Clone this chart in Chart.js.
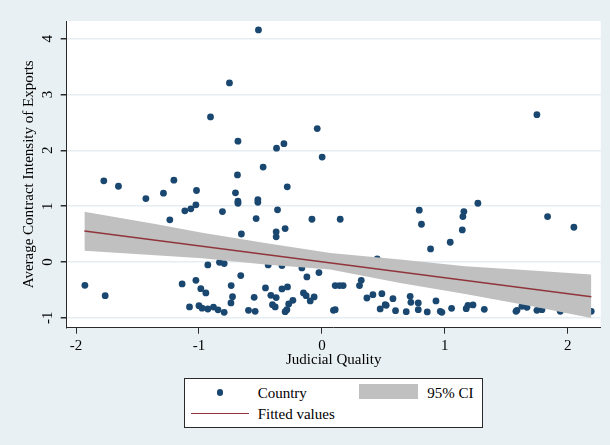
<!DOCTYPE html>
<html>
<head>
<meta charset="utf-8">
<script src="https://cdn.jsdelivr.net/npm/chart.js@4/dist/chart.umd.min.js"></script>
<style>
  html, body { margin: 0; padding: 0; background: #e9f0f3; }
  #wrap { position: relative; width: 610px; height: 445px; }
  canvas { display: block; }
  #legend {
    position: absolute; left: 184px; top: 378px; width: 297px; height: 48px;
    border: 1px solid #2a2a2a; background: #ffffff;
    font-family: "Liberation Serif", "Times New Roman", serif; font-size: 15px; color: #000;
  }
  #legend .txt { position: absolute; white-space: nowrap; line-height: 18px; }
  #legend .sym { position: absolute; }
</style>
</head>
<body>
<div id="wrap">
  <canvas id="chart" width="610" height="445"></canvas>
  <div id="legend"></div>
</div>
<script>
// Country observations: judicial quality (x) and average contract intensity of exports (y)
const countryX = [
  -0.516, -0.752, -0.906, 1.749, -0.038, -0.683, -0.309, -0.369, 0.002, -0.478,
  -0.687, -1.774, -1.204, -1.655, -0.282, -1.020, -1.289, -0.703, -1.432, -0.521,
  -0.521, -0.683, -0.683, 1.269, -1.025, -1.066, -1.115, -0.361, -0.809, 0.792,
  1.155, 1.147, 1.836, -0.535, -0.081, 0.149, -1.237, 0.810, 2.050, -0.299,
  1.142, -0.372, -0.655, -0.372, 1.044, 0.884, 0.450,
  -0.928, -0.833, -0.795, -0.437, -0.325, -0.163, -0.024, -0.122, -0.660,
  -1.928, -1.763, -1.137, -1.025, -0.985, -0.944, -0.738, -0.727, -0.740,
  -1.077, -1.000, -0.975, -0.928, -0.882, -0.845, -0.795, -0.597, -0.543, -0.551,
  -0.459, -0.415, -0.372, -0.402, -0.380, -0.325, -0.280, -0.236, -0.270, -0.285,
  -0.299, -0.150, -0.128, -0.063, -0.095, 0.108, 0.143, 0.173, 0.320, 0.306,
  0.108, 0.094, 0.366, 0.415, 0.474, 0.488, 0.515, 0.523, 0.578, 0.599,
  0.686, 0.718, 0.724, 0.784, 0.784, 0.857, 0.928, 0.963, 0.976, 1.055,
  1.174, 1.188, 1.229, 1.321, 1.579, 1.587, 1.627, 1.668, 1.749, 1.790,
  1.939, 2.191
];
const countryY = [
  4.16, 3.21, 2.60, 2.64, 2.39, 2.165, 2.12, 2.04, 1.88, 1.70,
  1.56, 1.454, 1.465, 1.357, 1.346, 1.28, 1.232, 1.239, 1.136, 1.118,
  1.07, 1.088, 1.052, 1.052, 1.023, 0.952, 0.916, 0.933, 0.903, 0.927,
  0.903, 0.813, 0.813, 0.777, 0.765, 0.765, 0.754, 0.675, 0.621, 0.598,
  0.574, 0.539, 0.50, 0.449, 0.352, 0.233, 0.054,
  -0.054, -0.007, -0.03, -0.054, -0.066, -0.108, -0.192, -0.27, -0.245,
  -0.42, -0.605, -0.395, -0.33, -0.48, -0.557, -0.425, -0.623, -0.736,
  -0.808, -0.785, -0.83, -0.845, -0.81, -0.86, -0.905, -0.868, -0.886, -0.635,
  -0.467, -0.60, -0.64, -0.767, -0.808, -0.485, -0.449, -0.689, -0.754, -0.856,
  -0.892, -0.557, -0.605, -0.628, -0.70, -0.425, -0.425, -0.425, -0.33, -0.425,
  -0.856, -0.868, -0.647, -0.587, -0.844, -0.569, -0.767, -0.779, -0.659, -0.874,
  -0.892, -0.617, -0.725, -0.736, -0.856, -0.898, -0.70, -0.886, -0.905, -0.833,
  -0.838, -0.779, -0.772, -0.85, -0.886, -0.868, -0.797, -0.815, -0.868, -0.856,
  -0.886, -0.886
];

// 95% confidence band of the fit
const ciX     = [-1.932, -1.356, -0.974, -0.461, 0.068, 0.637, 1.166, 1.709, 2.192];
const ciUpper = [ 0.898,  0.680,  0.521,  0.340, 0.160, 0.041, -0.079, -0.156, -0.228];
const ciLower = [ 0.200,  0.120,  0.065, -0.048, -0.138, -0.377, -0.575, -0.797, -1.005];

// Fitted values (linear fit)
const fitX = [-1.932, 2.192];
const fitY = [0.556, -0.623];

// Axis ticks
const xTicks = [-2, -1, 0, 1, 2];
const xTickLabels = ['-2', '-1', '0', '1', '2'];
const yTicks = [-1, 0, 1, 2, 3, 4];
const yTickLabels = ['-1', '0', '1', '2', '3', '4'];

const NAVY = '#1a476f';
const MAROON = '#90353b';
const BAND = '#c0c0c0';
const INK = '#2a2a2a';
const SERIF = '"Liberation Serif", "Times New Roman", serif';

const pts = (xs, ys) => xs.map((x, i) => ({ x: x, y: ys[i] }));

const plotBackground = {
  id: 'plotBackground',
  beforeDraw(chart) {
    const { ctx, chartArea: a } = chart;
    ctx.save();
    ctx.fillStyle = '#ffffff';
    ctx.fillRect(a.left, a.top, a.right - a.left, a.bottom - a.top);
    ctx.restore();
  }
};

const chart = new Chart(document.getElementById('chart'), {
  type: 'scatter',
  data: {
    datasets: [
      {
        type: 'line', label: 'Fitted values', data: pts(fitX, fitY),
        borderColor: MAROON, borderWidth: 1.5, pointRadius: 0, fill: false, tension: 0
      },
      {
        type: 'line', label: '95% CI', data: pts(ciX, ciUpper),
        borderWidth: 0, borderColor: BAND, backgroundColor: BAND, pointRadius: 0,
        fill: '+1', tension: 0
      },
      {
        type: 'line', label: '95% CI lower', data: pts(ciX, ciLower),
        borderWidth: 0, borderColor: BAND, pointRadius: 0, fill: false, tension: 0
      },
      {
        type: 'scatter', label: 'Country', data: pts(countryX, countryY),
        backgroundColor: NAVY, borderColor: NAVY, borderWidth: 0, pointRadius: 3.4
      }
    ]
  },
  options: {
    responsive: false,
    animation: false,
    devicePixelRatio: 1,
    layout: { padding: { left: 0, top: 21, right: 9.3, bottom: 76 } },
    plugins: { legend: { display: false }, tooltip: { enabled: false } },
    scales: {
      x: {
        type: 'linear', min: -2.076, max: 2.268,
        afterBuildTicks: s => { s.ticks = xTicks.map(v => ({ value: v })); },
        afterFit: s => { s.height = 41.3; },
        ticks: {
          autoSkip: false, maxRotation: 0, padding: 3, color: '#000',
          font: { family: SERIF, size: 15 },
          callback: v => xTickLabels[xTicks.indexOf(v)]
        },
        grid: { drawOnChartArea: false, tickLength: 6, tickColor: INK, lineWidth: 1 },
        border: { color: INK, width: 1 },
        title: {
          display: true, text: 'Judicial Quality', color: '#000',
          font: { family: SERIF, size: 15 }, padding: { top: 0, bottom: 0 }
        }
      },
      y: {
        type: 'linear', min: -1.18, max: 4.32,
        afterBuildTicks: s => { s.ticks = yTicks.map(v => ({ value: v })); },
        afterFit: s => { s.width = 66.7; },
        ticks: {
          autoSkip: false, minRotation: 90, maxRotation: 90, crossAlign: 'center',
          padding: 6, color: '#000', font: { family: SERIF, size: 15 },
          callback: v => yTickLabels[yTicks.indexOf(v)]
        },
        grid: { color: '#e6eef1', lineWidth: 1.5, tickLength: 6, tickColor: INK },
        border: { color: INK, width: 1 },
        title: {
          display: true, text: 'Average Contract Intensity of Exports', color: '#000',
          font: { family: SERIF, size: 15 }, padding: { top: 20, bottom: 0 }
        }
      }
    }
  },
  plugins: [plotBackground]
});

// Legend box built from the chart's datasets
(function buildLegend() {
  const ds = chart.data.datasets;
  const country = ds[3], band = ds[1], fitted = ds[0];
  const box = document.getElementById('legend');
  const add = (cls, css, text) => {
    const el = document.createElement('div');
    el.className = cls;
    Object.assign(el.style, css);
    if (text) el.textContent = text;
    box.appendChild(el);
  };
  add('sym', { left: '31.6px', top: '10.3px', width: '6.8px', height: '6.8px',
               borderRadius: '50%', background: country.backgroundColor });
  add('txt', { left: '72.7px', top: '5px' }, country.label);
  add('sym', { left: '174px', top: '5px', width: '59.3px', height: '15.3px',
               background: band.backgroundColor });
  add('txt', { left: '242.3px', top: '5px' }, band.label);
  add('sym', { left: '6px', top: '33.5px', width: '58px', height: '1.5px',
               background: fitted.borderColor });
  add('txt', { left: '72.7px', top: '26px' }, fitted.label);
})();
</script>
</body>
</html>
